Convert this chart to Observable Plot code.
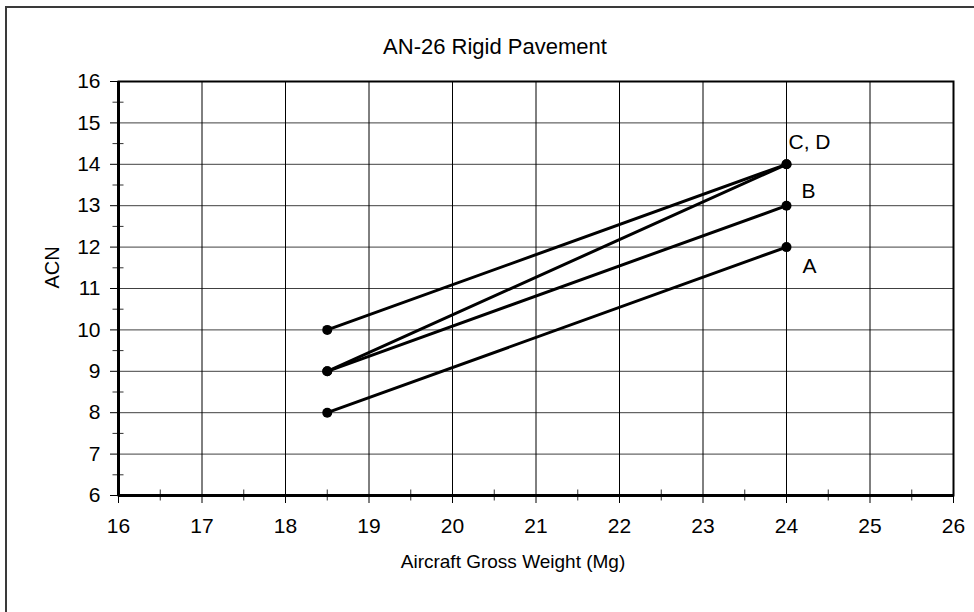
<!DOCTYPE html>
<html>
<head>
<meta charset="utf-8">
<script src="https://cdn.jsdelivr.net/npm/d3@7"></script>
<script src="https://cdn.jsdelivr.net/npm/@observablehq/plot@0.6"></script>
<style>
  html, body { margin: 0; padding: 0; background: white; overflow: hidden; }
  #wrap { position: relative; width: 974px; height: 612px; }
  #outer { position: absolute; left: 5px; top: 6px; width: 1200px; height: 1200px;
           border-left: 2px solid #3a3a3a; border-top: 2px solid #3a3a3a; pointer-events: none; }
  #chart { position: absolute; left: 0; top: 0; }
</style>
</head>
<body>
<div id="wrap"><div id="chart"></div><div id="outer"></div></div>
<script>
const title = "AN-26 Rigid Pavement";
const xLabel = "Aircraft Gross Weight (Mg)";
const yLabel = "ACN";
const xTicks = [16, 17, 18, 19, 20, 21, 22, 23, 24, 25, 26];
const yTicks = [6, 7, 8, 9, 10, 11, 12, 13, 14, 15, 16];
const xMinor = [16.5, 17.5, 18.5, 19.5, 20.5, 21.5, 22.5, 23.5, 24.5, 25.5];
const yMinor = [6.5, 7.5, 8.5, 9.5, 10.5, 11.5, 12.5, 13.5, 14.5, 15.5];

const series = ["A", "B", "C", "D"];
const weights = [18.5, 24];
const acnA = [8, 12];
const acnB = [9, 13];
const acnC = [9, 14];
const acnD = [10, 14];

const seriesValues = {A: acnA, B: acnB, C: acnC, D: acnD};
const data = series.flatMap(s => weights.map((w, i) => ({series: s, x: w, y: seriesValues[s][i]})));

const labelCD = [{text: "C, D", x: 24, y: 14}];
const labelB = [{text: "B", x: 24, y: 13}];
const labelA = [{text: "A", x: 24, y: 12}];

const font = "'Liberation Sans', Arial, sans-serif";

const chart = Plot.plot({
  width: 974,
  height: 612,
  marginLeft: 118,
  marginRight: 21,
  marginTop: 81,
  marginBottom: 117,
  x: {domain: [16, 26]},
  y: {domain: [6, 16]},
  style: {fontFamily: font, fontSize: "21px", background: "white", color: "black", overflow: "visible"},
  marks: [
    Plot.gridX(xTicks, {stroke: "black", strokeOpacity: 1, strokeWidth: 1}),
    Plot.gridY(yTicks, {stroke: "black", strokeOpacity: 0.75, strokeWidth: 1}),
    Plot.axisX(xTicks, {tickSize: 8, tickPadding: 15, label: null, fontSize: 21, stroke: "black"}),
    Plot.axisX(xMinor, {tickSize: 11, dy: -5.5, text: null, label: null, stroke: "#333"}),
    Plot.axisY(yTicks, {tickSize: 8, tickPadding: 10, label: null, fontSize: 21, stroke: "black"}),
    Plot.axisY(yMinor, {tickSize: 11, dx: 5.5, text: null, label: null, stroke: "#333"}),
    Plot.frame({stroke: "black", strokeWidth: 2}),
    Plot.ruleX([16], {stroke: "black", strokeWidth: 3}),
    Plot.ruleY([6], {stroke: "black", strokeWidth: 3}),
    Plot.line(data, {x: "x", y: "y", z: "series", stroke: "black", strokeWidth: 3}),
    Plot.dot(data, {x: "x", y: "y", r: 5, fill: "black", stroke: "none"}),
    Plot.text(labelCD, {x: "x", y: "y", text: "text", textAnchor: "start", dx: 2, dy: -22, fontSize: 21}),
    Plot.text(labelB, {x: "x", y: "y", text: "text", textAnchor: "start", dx: 15, dy: -14, fontSize: 21}),
    Plot.text(labelA, {x: "x", y: "y", text: "text", textAnchor: "start", dx: 16, dy: 19, fontSize: 21}),
    Plot.text([title], {frameAnchor: "top", text: d => d, dx: -41, dy: -43, fontSize: 22}),
    Plot.text([xLabel], {frameAnchor: "bottom", text: d => d, dx: -23, dy: 72, fontSize: 19}),
    Plot.text([yLabel], {frameAnchor: "left", text: d => d, rotate: -90, dx: -66, fontSize: 20})
  ]
});
document.getElementById("chart").appendChild(chart);
</script>
</body>
</html>
